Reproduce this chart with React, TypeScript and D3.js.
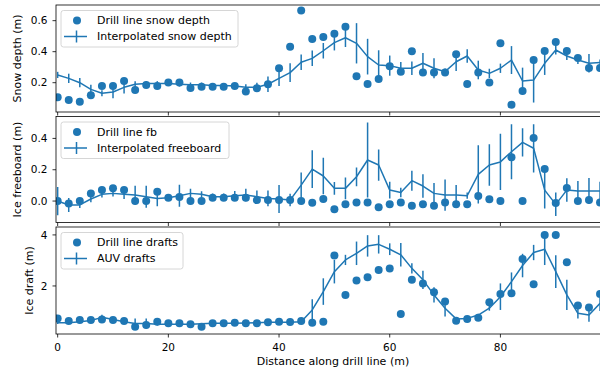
import React, { useRef, useEffect } from 'react';
import * as d3 from 'd3';

// distance along drill line (m)
const distance = [0, 2, 4, 6, 8, 10, 12, 14, 16, 18, 20, 22, 24, 26, 28, 30, 32, 34, 36, 38, 40, 42,
  44, 46, 48, 50, 52, 54, 56, 58, 60, 62, 64, 66, 68, 70, 72, 74, 76, 78, 80, 82, 84, 86, 88, 90, 92, 94, 96, 98];

const snowDrill = [0.106, 0.088, 0.077, 0.119, 0.179, 0.179, 0.211, 0.153, 0.185, 0.179, 0.202, 0.202, 0.166, 0.174, 0.174, 0.174, 0.179, 0.144, 0.164, 0.19, 0.293, 0.432,
  0.665, 0.482, 0.495, 0.516, 0.561, 0.241, 0.192, 0.224, 0.306, 0.271, 0.403, 0.265, 0.265, 0.265, 0.383, 0.192, 0.265, 0.202, 0.454, 0.058, 0.146, 0.346, 0.405, 0.463, 0.405, 0.359, 0.295, 0.295];
const snowInterp = [0.25, 0.228, 0.2, 0.157, 0.132, 0.14, 0.17, 0.19, 0.195, 0.195, 0.195, 0.19, 0.186, 0.186, 0.182, 0.182, 0.179, 0.17, 0.17, 0.19, 0.228, 0.265,
  0.332, 0.357, 0.406, 0.458, 0.49, 0.454, 0.368, 0.314, 0.31, 0.293, 0.293, 0.325, 0.293, 0.271, 0.335, 0.372, 0.282, 0.26, 0.293, 0.346, 0.211, 0.217, 0.325, 0.411, 0.372, 0.346, 0.325, 0.33];
const snowErr = [0.02, 0.03, 0.03, 0.03, 0.02, 0.04, 0.04, 0.02, 0.015, 0.015, 0.015, 0.015, 0.015, 0.015, 0.015, 0.015, 0.015, 0.02, 0.03, 0.05, 0.05, 0.06,
  0.05, 0.05, 0.05, 0.05, 0.06, 0.13, 0.115, 0.095, 0.065, 0.04, 0.043, 0.067, 0.065, 0.02, 0.06, 0.043, 0.06, 0.03, 0.03, 0.09, 0.086, 0.145, 0.075, 0.03, 0.025, 0.025, 0.06, 0.02];

const fbDrill = [0, -0.015, 0, 0.049, 0.07, 0.081, 0.07, 0, 0, 0.06, 0.021, 0.026, 0, 0, 0.021, 0.021, 0.021, 0.021, 0.006, 0.006, 0.006, 0.006,
  0, -0.011, 0.013, -0.053, -0.021, -0.01, -0.01, -0.04, -0.021, -0.01, -0.03, -0.021, -0.03, -0.01, -0.021, -0.021, 0.032, 0.011, 0, 0.279, 0, 0.402, 0.204, -0.013, 0.083, 0, 0.006, -0.01];
const fbInterp = [0, -0.025, -0.025, 0.013, 0.043, 0.049, 0.043, 0.038, 0.028, 0.017, 0.021, 0.034, 0.049, 0.043, 0.028, 0.028, 0.034, 0.038, 0.028, 0.017, 0.013, 0.006,
  0.102, 0.204, 0.16, 0.081, 0.081, 0.155, 0.262, 0.23, 0.07, 0.055, 0.13, 0.096, 0.049, 0.038, 0.038, 0.034, 0.17, 0.23, 0.25, 0.315, 0.375, 0.337, 0.07, -0.021, 0.07, 0.064, 0.064, 0.064];
const fbErr = [0.09, 0.045, 0.02, 0.02, 0.02, 0.02, 0.03, 0.06, 0.07, 0.05, 0.02, 0.07, 0.03, 0.02, 0.02, 0.02, 0.03, 0.04, 0.04, 0.05, 0.09, 0.04,
  0.08, 0.12, 0.117, 0.04, 0.07, 0.06, 0.24, 0.1, 0.053, 0.03, 0.064, 0.075, 0.066, 0.1, 0.064, 0.02, 0.186, 0.133, 0.18, 0.176, 0.09, 0.154, 0.117, 0.075, 0.075, 0.064, 0.083, 0.06];

const draftDrill = [0.73, 0.63, 0.67, 0.67, 0.69, 0.67, 0.63, 0.4, 0.47, 0.6, 0.54, 0.54, 0.5, 0.4, 0.54, 0.54, 0.56, 0.54, 0.54, 0.58, 0.6, 0.59,
  0.63, 0.56, 0.6, 3.19, 1.65, 2.21, 2.34, 2.63, 2.68, 0.9, 2.24, 2.1, 1.75, 1.39, 0.64, 0.71, 0.75, 1.36, 1.69, 1.71, 3.06, 2.07, 4.0, 4.0, 2.93, 1.23, 1.16, 1.69];
const auvDraft = [0.56, 0.56, 0.6, 0.65, 0.77, 0.69, 0.6, 0.53, 0.53, 0.5, 0.5, 0.5, 0.5, 0.52, 0.54, 0.54, 0.54, 0.55, 0.56, 0.58, 0.58, 0.58,
  0.6, 1.06, 1.78, 2.56, 3.02, 3.28, 3.57, 3.63, 3.44, 3.22, 2.69, 2.24, 1.65, 1.13, 0.71, 0.73, 0.86, 1.13, 1.58, 2.17, 2.8, 3.31, 3.44, 2.56, 1.65, 0.93, 0.86, 1.32];
const auvErr = [0.05, 0.05, 0.05, 0.1, 0.1, 0.05, 0.05, 0.2, 0.2, 0.05, 0.03, 0.03, 0.03, 0.03, 0.03, 0.03, 0.03, 0.03, 0.03, 0.03, 0.03, 0.03,
  0.05, 0.42, 0.52, 0.46, 0.2, 0.46, 0.42, 0.36, 0.23, 0.46, 0.2, 0.36, 0.3, 0.33, 0.05, 0.05, 0.05, 0.1, 0.52, 0.36, 0.46, 0.3, 0.62, 0.64, 0.59, 0.2, 0.26, 0.3];

const xTicks = [0, 20, 40, 60, 80];
const snowTicks = [0.2, 0.4, 0.6];
const fbTicks = [0.0, 0.2, 0.4];
const draftTicks = [2, 4];

const blue = '#1f77b4';
const font = 'DejaVu Sans';

function DrillLineChart() {
  const ref = useRef<SVGSVGElement>(null);

  useEffect(() => {
    const svg = d3.select(ref.current);
    svg.selectAll('*').remove();

    const left = 56;
    const right = 610;
    const x = d3.scaleLinear().domain([-0.3, 99.8]).range([left, right]);

    const panels = [
      { top: 5, bottom: 112, domain: [0.011, 0.701], ticks: snowTicks, fmt: d3.format('.1f'),
        label: 'Snow depth (m)', labelX: 17, drill: snowDrill, line: snowInterp, err: snowErr,
        legend: ['Drill line snow depth', 'Interpolated snow depth'], legendW: 177 },
      { top: 116.5, bottom: 222.5, domain: [-0.137, 0.54], ticks: fbTicks, fmt: d3.format('.1f'),
        label: 'Ice freeboard (m)', labelX: 17, drill: fbDrill, line: fbInterp, err: fbErr,
        legend: ['Drill line fb', 'Interpolated freeboard'], legendW: 168 },
      { top: 227, bottom: 334, domain: [0.118, 4.31], ticks: draftTicks, fmt: d3.format('d'),
        label: 'Ice draft (m)', labelX: 29, drill: draftDrill, line: auvDraft, err: auvErr,
        legend: ['Drill line drafts', 'AUV drafts'], legendW: 122 },
    ];

    panels.forEach((p, i) => {
      const y = d3.scaleLinear().domain(p.domain).range([p.bottom, p.top]);
      const g = svg.append('g');

      const clipId = 'panel-clip-' + i;
      svg.append('clipPath').attr('id', clipId)
        .append('rect')
        .attr('x', left).attr('y', p.top)
        .attr('width', right - left).attr('height', p.bottom - p.top);

      const plot = g.append('g').attr('clip-path', 'url(#' + clipId + ')');

      // drill points (scatter sits below the lines, like matplotlib)
      plot.selectAll('circle')
        .data(distance)
        .enter().append('circle')
        .attr('cx', (d) => x(d))
        .attr('cy', (d, j) => y(p.drill[j]))
        .attr('r', 4)
        .attr('fill', blue);

      // error bars
      plot.selectAll('line.err')
        .data(distance)
        .enter().append('line')
        .attr('class', 'err')
        .attr('x1', (d) => x(d))
        .attr('x2', (d) => x(d))
        .attr('y1', (d, j) => y(p.line[j] - p.err[j]))
        .attr('y2', (d, j) => y(p.line[j] + p.err[j]))
        .attr('stroke', blue)
        .attr('stroke-width', 1.5);

      const lineGen = d3.line<number>()
        .x((d) => x(d))
        .y((d, j) => y(p.line[j]));

      plot.append('path')
        .datum(distance)
        .attr('d', lineGen)
        .attr('fill', 'none')
        .attr('stroke', blue)
        .attr('stroke-width', 1.5)
        .attr('stroke-linejoin', 'round');

      // frame
      g.append('rect')
        .attr('x', left).attr('y', p.top)
        .attr('width', right - left).attr('height', p.bottom - p.top)
        .attr('fill', 'none')
        .attr('stroke', '#000')
        .attr('stroke-width', 0.8);

      // x ticks (labels only on the bottom panel)
      g.selectAll('line.xt')
        .data(xTicks)
        .enter().append('line')
        .attr('x1', (d) => x(d)).attr('x2', (d) => x(d))
        .attr('y1', p.bottom).attr('y2', p.bottom + 3.5)
        .attr('stroke', '#000').attr('stroke-width', 0.8);

      if (i === panels.length - 1) {
        g.selectAll('text.xt')
          .data(xTicks)
          .enter().append('text')
          .attr('x', (d) => x(d))
          .attr('y', p.bottom + 16.5)
          .attr('text-anchor', 'middle')
          .style('font-family', font)
          .style('font-size', '10.5px')
          .text((d) => String(d));

        g.append('text')
          .attr('x', (left + right) / 2)
          .attr('y', p.bottom + 31)
          .attr('text-anchor', 'middle')
          .style('font-family', font)
          .style('font-size', '11px')
          .text('Distance along drill line (m)');
      }

      // y ticks
      g.selectAll('line.yt')
        .data(p.ticks)
        .enter().append('line')
        .attr('x1', left - 3.5).attr('x2', left)
        .attr('y1', (d) => y(d)).attr('y2', (d) => y(d))
        .attr('stroke', '#000').attr('stroke-width', 0.8);

      g.selectAll('text.yt')
        .data(p.ticks)
        .enter().append('text')
        .attr('x', left - 8.5)
        .attr('y', (d) => y(d))
        .attr('dy', '0.35em')
        .attr('text-anchor', 'end')
        .style('font-family', font)
        .style('font-size', '10.5px')
        .text((d) => p.fmt(d));

      g.append('text')
        .attr('transform', 'translate(' + p.labelX + ',' + (p.top + p.bottom) / 2 + ') rotate(-90)')
        .attr('dy', '0.35em')
        .attr('text-anchor', 'middle')
        .style('font-family', font)
        .style('font-size', '11px')
        .text(p.label);

      // legend
      const lg = g.append('g').attr('transform', 'translate(61,' + (p.top + 5.5) + ')');
      lg.append('rect')
        .attr('width', p.legendW).attr('height', 36.5)
        .attr('rx', 2.5)
        .attr('fill', '#fff').attr('fill-opacity', 0.8)
        .attr('stroke', '#cccccc').attr('stroke-width', 0.8);

      lg.append('circle')
        .attr('cx', 16).attr('cy', 10)
        .attr('r', 4).attr('fill', blue);
      lg.append('line')
        .attr('x1', 3).attr('x2', 26).attr('y1', 26).attr('y2', 26)
        .attr('stroke', blue).attr('stroke-width', 1.5);
      lg.append('line')
        .attr('x1', 15.5).attr('x2', 15.5).attr('y1', 20).attr('y2', 32)
        .attr('stroke', blue).attr('stroke-width', 1.5);

      lg.selectAll('text')
        .data(p.legend)
        .enter().append('text')
        .attr('x', 36)
        .attr('y', (d, j) => 10 + j * 16)
        .attr('dy', '0.35em')
        .style('font-family', font)
        .style('font-size', '11px')
        .text((d) => d);
    });
  }, []);

  return (
    <svg ref={ref} width={600} height={370}
      style={{ position: 'absolute', left: 0, top: 0, background: '#fff' }} />
  );
}

export default function App() {
  return <DrillLineChart />;
}
